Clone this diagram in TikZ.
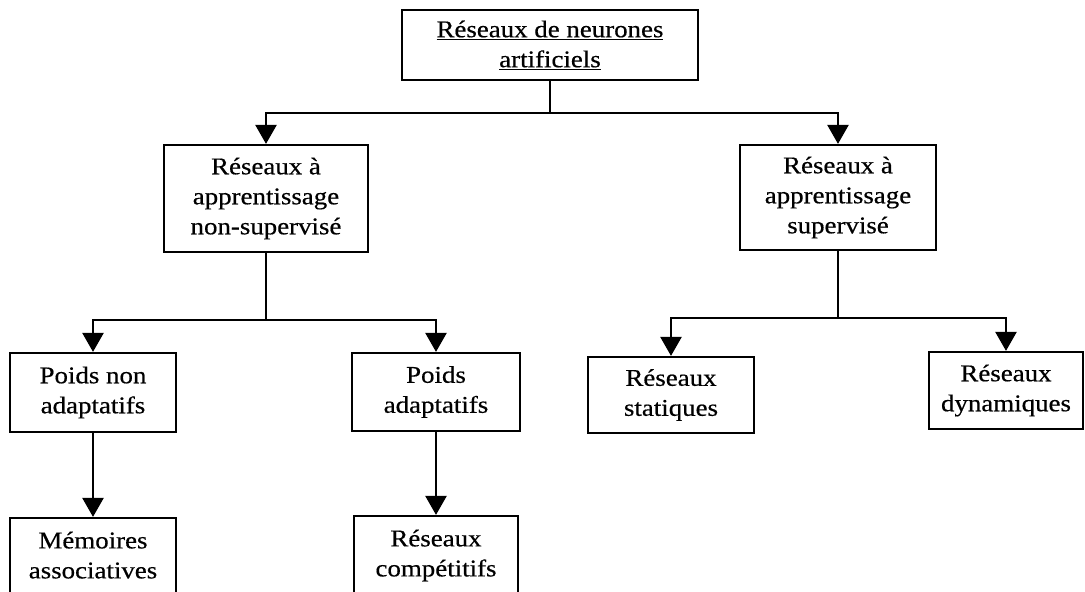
\documentclass[tikz,border=0pt]{standalone}
\usepackage{fontspec}
\setmainfont{Liberation Serif}[FakeStretch=1.12, FakeBold=0.5]
\usetikzlibrary{arrows.meta}
\begin{document}
\begin{tikzpicture}[x=1pt,y=1pt,
  box/.style={draw, line width=2.2pt, inner sep=0pt, align=center,
              font=\fontsize{24}{30}\selectfont},
  link/.style={line width=2.4pt},
  arr/.style={link, -{Triangle[length=19pt,width=21pt]}}]
\useasboundingbox (0,0) rectangle (1085,-592);
\fill[white] (0,0) rectangle (1085,-592);

% root
\node[box, minimum width=296, minimum height=70] (root) at (550,-45)
  {\underline{Réseaux de neurones}\\\underline{artificiels}};

% first level
\node[box, minimum width=204, minimum height=107] (uns) at (266,-198.5)
  {Réseaux à\\apprentissage\\non-supervisé};
\node[box, minimum width=196, minimum height=105] (sup) at (838,-197.5)
  {Réseaux à\\apprentissage\\supervisé};

% second level
\node[box, minimum width=166, minimum height=79] (pna) at (93,-392.5)
  {Poids non\\adaptatifs};
\node[box, minimum width=168, minimum height=78] (pad) at (436,-392)
  {Poids\\adaptatifs};
\node[box, minimum width=166, minimum height=76] (sta) at (671,-395)
  {Réseaux\\statiques};
\node[box, minimum width=154, minimum height=77] (dyn) at (1006,-390.5)
  {Réseaux\\dynamiques};

% third level (boxes run past the lower edge)
\node[box, minimum width=166, minimum height=104] (mem) at (93,-570)
  {Mémoires\\associatives\\\mbox{}};
\node[box, minimum width=164, minimum height=104] (com) at (436,-568)
  {Réseaux\\compétitifs\\\mbox{}};

% junctions
\coordinate (j0) at (550,-113);
\coordinate (j1) at (266,-320);
\coordinate (j2) at (838,-318);

% connectors
\draw[link] (root.south) -- (j0);
\draw[arr] (j0) -| (uns.north);
\draw[arr] (j0) -| (sup.north);

\draw[link] (uns.south) -- (j1);
\draw[arr] (j1) -| (pna.north);
\draw[arr] (j1) -| (pad.north);

\draw[link] (sup.south) -- (j2);
\draw[arr] (j2) -| (sta.north);
\draw[arr] (j2) -| (dyn.north);

\draw[arr] (pna.south) -- (mem.north);
\draw[arr] (pad.south) -- (com.north);
\end{tikzpicture}
\end{document}
